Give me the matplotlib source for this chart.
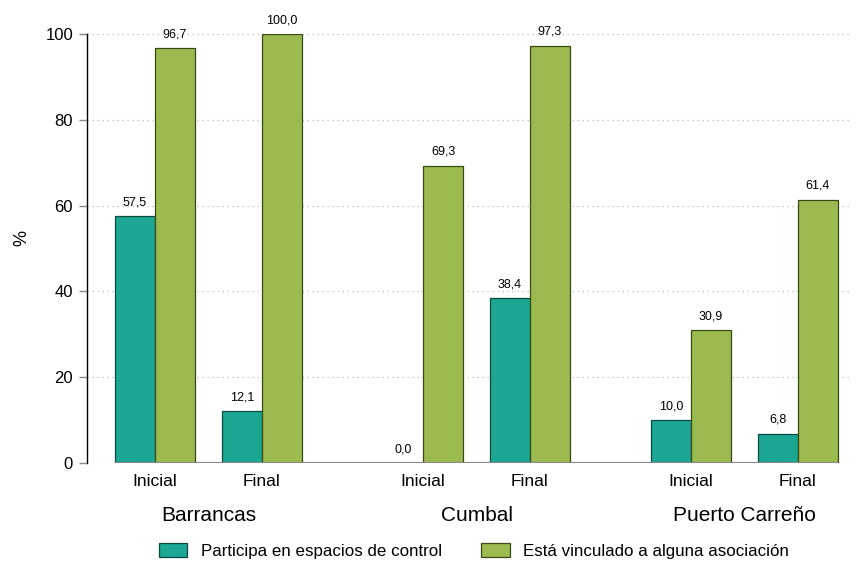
import numpy as np
import matplotlib
matplotlib.use('Agg')
import matplotlib.pyplot as plt

plt.rcParams['font.family'] = ['Liberation Sans', 'DejaVu Sans']

ciudades = ['Barrancas', 'Cumbal', 'Puerto Carreño']
momentos = ['Inicial', 'Final']
participa = [57.5, 12.1, 0.0, 38.4, 10.0, 6.8]
vinculado = [96.7, 100.0, 69.3, 97.3, 30.9, 61.4]
serie_nombres = ['Participa en espacios de control', 'Está vinculado a alguna asociación']

color_teal = '#1ba794'
color_verde = '#9bba50'

fig = plt.figure(figsize=(8.57, 5.62), dpi=100)
ax = fig.add_axes([87 / 857, 1 - 463 / 562, (850 - 87) / 857, (463 - 34) / 562])

ancho = 1.0
centros = []
for i in range(len(ciudades)):
    for j in range(len(momentos)):
        centros.append(i * 6.7 + j * 2.675)
centros = np.array(centros)

b1 = ax.bar(centros - ancho / 2, participa, ancho, color=color_teal,
            edgecolor='#0e4a40', linewidth=0.9, label=serie_nombres[0], zorder=3)
b2 = ax.bar(centros + ancho / 2, vinculado, ancho, color=color_verde,
            edgecolor='#3a4a14', linewidth=0.9, label=serie_nombres[1], zorder=3)

for barras in (b1, b2):
    for r in barras:
        h = r.get_height()
        ax.annotate(f'{h:.1f}'.replace('.', ','), (r.get_x() + r.get_width() / 2, h),
                    xytext=(0, 10), textcoords='offset points',
                    ha='center', va='center', fontsize=9)

ax.set_xlim(-1.7, 17.375)
ax.set_ylim(0, 100)
ax.set_yticks([0, 20, 40, 60, 80, 100])
ax.tick_params(axis='y', labelsize=12, length=6, color='#888888', width=1, pad=4)
ax.grid(axis='y', linestyle=(0, (1, 3)), color='#bbbbbb', linewidth=0.9, zorder=0)
ax.hlines(0, centros[0] - 1.0, centros[-1] + 1.0, color='#888888', linewidth=1.5, zorder=4)
ax.set_axisbelow(True)

for s in ['top', 'right', 'bottom']:
    ax.spines[s].set_visible(False)
ax.spines['left'].set_linewidth(1.0)

ax.set_xticks(centros)
ax.set_xticklabels(momentos * len(ciudades), fontsize=12.5)
ax.tick_params(axis='x', length=0, pad=8)

for i, c in enumerate(ciudades):
    x = (centros[2 * i] + centros[2 * i + 1]) / 2
    ax.text(x, -12.2, c, ha='center', va='center', fontsize=15,
            transform=ax.transData, clip_on=False)

ax.set_ylabel('%', fontsize=13)
ax.yaxis.set_label_coords(-0.074, 0.525)

fig.legend(handles=[b1, b2], loc='center', bbox_to_anchor=(0.553, 1 - 551 / 562),
           ncol=2, frameon=False, fontsize=12.2, handlelength=1.7, handleheight=0.9,
           handletextpad=0.8, columnspacing=2.3)

fig.savefig('out.png', dpi=100)
